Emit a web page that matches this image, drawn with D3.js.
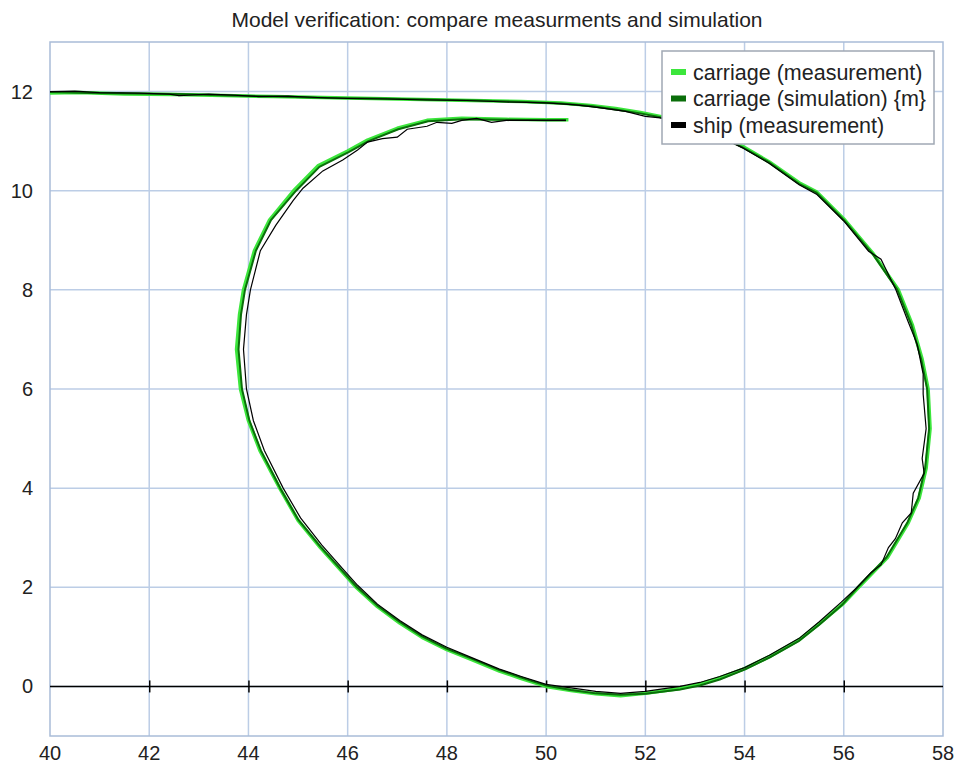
<!DOCTYPE html>
<html>
<head>
<meta charset="utf-8">
<script src="https://cdn.jsdelivr.net/npm/d3@7"></script>
<style>
  body { margin: 0; background: #fff; }
  text { font-family: "Liberation Sans", Arial, sans-serif; fill: #222; }
</style>
</head>
<body>
<div id="chart"></div>
<script>
// chart data
var titleText = "Model verification: compare measurments and simulation";
var xTicks = [40, 42, 44, 46, 48, 50, 52, 54, 56, 58];
var yTicks = [0, 2, 4, 6, 8, 10, 12];
var seriesNames = ["carriage (measurement)", "carriage (simulation) {m}", "ship (measurement)"];

var carriageMeas = [
  [40.0,11.97],[40.6,11.98],[41.5,11.95],[42.5,11.94],[43.5,11.92],[44.5,11.9],[45.5,11.88],
  [46.5,11.86],[47.5,11.84],[48.5,11.82],[49.5,11.8],[50.3,11.77],[50.9,11.72],[51.4,11.66],
  [51.9,11.58],[52.3,11.5],[52.8,11.37],[53.4,11.16],[53.95,10.9],[54.5,10.58],[55.1,10.16],
  [55.45,9.98],[56.0,9.43],[56.6,8.72],[57.1,8.0],[57.38,7.3],[57.58,6.6],[57.7,6.0],
  [57.74,5.2],[57.66,4.4],[57.52,3.8],[57.3,3.3],[56.88,2.6],[56.3,2.0],[56.0,1.68],
  [55.5,1.26],[55.1,0.94],[54.5,0.6],[54.0,0.36],[53.5,0.17],[53.1,0.05],[52.7,-0.04],
  [52.0,-0.14],[51.5,-0.19],[51.0,-0.15],[50.5,-0.08],[50.0,0.0],[49.5,0.16],[49.06,0.31],
  [48.5,0.54],[48.0,0.74],[47.5,0.99],[47.05,1.28],[46.6,1.61],[46.18,1.99],[45.9,2.3],
  [45.45,2.8],[45.0,3.35],[44.63,4.0],[44.23,4.76],[44.0,5.36],[43.84,6.0],[43.76,6.8],
  [43.82,7.5],[43.9,8.0],[44.12,8.79],[44.42,9.4],[44.93,10.02],[45.4,10.5],[46.0,10.8],
  [46.4,11.02],[47.0,11.26],[47.6,11.42],[48.3,11.46],[49.2,11.44],[50.0,11.43],[50.45,11.43]
];

var carriageSim = [
  [40.0,11.99],[40.8,11.97],[41.7,11.96],[42.6,11.95],[43.6,11.92],[44.6,11.9],[45.6,11.87],
  [46.6,11.86],[47.6,11.84],[48.6,11.82],[49.6,11.79],[50.3,11.76],[50.9,11.71],[51.4,11.64],
  [51.9,11.56],[52.3,11.48],[52.8,11.35],[53.4,11.14],[53.95,10.88],[54.5,10.57],[55.1,10.14],
  [55.45,9.96],[56.0,9.41],[56.6,8.7],[57.08,8.0],[57.36,7.3],[57.56,6.6],[57.68,6.0],
  [57.72,5.2],[57.64,4.4],[57.5,3.8],[57.28,3.3],[56.86,2.6],[56.28,2.0],[55.98,1.66],
  [55.5,1.24],[55.1,0.92],[54.5,0.58],[54.0,0.34],[53.5,0.14],[53.1,0.02],[52.7,-0.06],
  [52.0,-0.15],[51.5,-0.17],[51.0,-0.14],[50.5,-0.07],[50.0,0.02],[49.5,0.18],[49.06,0.33],
  [48.5,0.56],[48.0,0.76],[47.5,1.01],[47.05,1.3],[46.6,1.63],[46.18,2.01],[45.9,2.32],
  [45.45,2.82],[45.0,3.37],[44.64,4.0],[44.25,4.76],[44.02,5.36],[43.87,6.0],[43.8,6.8],
  [43.85,7.5],[43.93,8.0],[44.15,8.79],[44.45,9.4],[44.96,10.0],[45.43,10.48],[46.02,10.78],
  [46.42,11.0],[47.02,11.24],[47.62,11.4],[48.3,11.44],[49.2,11.43],[50.0,11.42],[50.4,11.42]
];

var shipMeas = [
  [40.0,12.0],[40.5,12.01],[41.0,11.98],[41.8,11.97],[42.4,11.95],[42.6,11.92],[43.2,11.95],
  [43.7,11.93],[44.2,11.9],[44.8,11.91],[45.4,11.88],[46.0,11.86],[46.8,11.85],[47.6,11.83],
  [48.4,11.82],[49.2,11.79],[50.0,11.77],[50.6,11.73],[51.1,11.67],[51.6,11.6],[52.0,11.5],
  [52.3,11.47],[52.8,11.35],[53.4,11.14],[53.95,10.87],[54.5,10.55],[55.1,10.12],
  [55.45,9.93],[56.0,9.39],[56.5,8.78],[56.75,8.62],[57.05,8.0],[57.3,7.35],[57.48,6.9],
  [57.6,6.3],[57.6,5.9],[57.66,5.2],[57.58,4.6],[57.62,4.3],[57.4,3.9],[57.36,3.5],
  [57.18,3.3],[57.04,2.98],[56.9,2.8],[56.75,2.45],[56.55,2.3],[56.25,1.98],[55.95,1.7],
  [55.5,1.3],[55.1,0.97],[54.5,0.63],[54.0,0.38],[53.5,0.2],[53.1,0.08],[52.7,0.0],
  [52.0,-0.1],[51.5,-0.14],[51.0,-0.1],[50.5,-0.03],[50.0,0.04],[49.5,0.2],[49.06,0.35],
  [48.5,0.58],[48.0,0.79],[47.5,1.04],[47.05,1.33],[46.6,1.66],[46.2,2.04],[45.92,2.35],
  [45.48,2.85],[45.05,3.4],[44.7,4.0],[44.32,4.76],[44.1,5.36],[43.96,6.0],[43.9,6.8],
  [43.96,7.5],[44.04,8.0],[44.24,8.79],[44.55,9.3],[44.9,9.8],[45.1,10.05],[45.5,10.4],
  [45.9,10.62],[46.2,10.82],[46.4,10.98],[46.7,11.05],[47.0,11.08],[47.2,11.24],[47.6,11.3],
  [47.8,11.38],[48.1,11.36],[48.3,11.42],[48.6,11.46],[48.9,11.38],[49.2,11.42],[50.0,11.42],
  [50.4,11.42]
];

var svgWidth = 956;
var svgHeight = 764;
var margin = { top: 42, right: 13, bottom: 28, left: 50 };
var width = svgWidth - margin.left - margin.right;
var height = svgHeight - margin.top - margin.bottom;

var svg = d3.select("#chart")
  .append("svg")
  .attr("width", svgWidth)
  .attr("height", svgHeight);

var chartGroup = svg.append("g")
  .attr("transform", `translate(${margin.left}, ${margin.top})`);

var xScale = d3.scaleLinear().domain([40, 58]).range([0, width]);
var yScale = d3.scaleLinear().domain([-1, 13]).range([height, 0]);

// grid
chartGroup.append("g")
  .selectAll("line")
  .data(xTicks.slice(1, -1))
  .enter()
  .append("line")
  .attr("x1", d => xScale(d)).attr("x2", d => xScale(d))
  .attr("y1", 0).attr("y2", height)
  .attr("stroke", "#bccde6").attr("stroke-width", 1.5);

chartGroup.append("g")
  .selectAll("line")
  .data(yTicks)
  .enter()
  .append("line")
  .attr("x1", 0).attr("x2", width)
  .attr("y1", d => yScale(d)).attr("y2", d => yScale(d))
  .attr("stroke", "#bccde6").attr("stroke-width", 1.5);

// frame
chartGroup.append("rect")
  .attr("width", width).attr("height", height)
  .attr("fill", "none")
  .attr("stroke", "#a9bcd8").attr("stroke-width", 1.5);

// zero line with ticks
var bottomAxis = d3.axisBottom(xScale)
  .tickValues(xTicks.slice(1, -1))
  .tickSize(6)
  .tickFormat("");
var zeroAxis = chartGroup.append("g")
  .attr("transform", `translate(0,${yScale(0)})`)
  .call(bottomAxis);
zeroAxis.select(".domain").attr("d", `M0,0H${width}`).attr("stroke", "#000").attr("stroke-width", 1.5);
zeroAxis.selectAll(".tick line").attr("y1", -6).attr("y2", 6).attr("stroke", "#000").attr("stroke-width", 1.5);

// tick labels
chartGroup.append("g")
  .selectAll("text")
  .data(xTicks)
  .enter()
  .append("text")
  .attr("x", d => xScale(d))
  .attr("y", height + 24)
  .attr("text-anchor", "middle")
  .style("font-size", "20px")
  .text(d => d);

chartGroup.append("g")
  .selectAll("text")
  .data(yTicks)
  .enter()
  .append("text")
  .attr("x", -17)
  .attr("y", d => yScale(d))
  .attr("dy", "0.35em")
  .attr("text-anchor", "end")
  .style("font-size", "20px")
  .text(d => d);

// series
var line = d3.line()
  .x(d => xScale(d[0]))
  .y(d => yScale(d[1]));

chartGroup.append("path")
  .datum(carriageMeas)
  .attr("d", line)
  .attr("fill", "none")
  .attr("stroke", "#3ce63c")
  .attr("stroke-width", 3.5)
  .attr("stroke-linejoin", "round");

chartGroup.append("path")
  .datum(carriageSim)
  .attr("d", line)
  .attr("fill", "none")
  .attr("stroke", "#0a6e0a")
  .attr("stroke-width", 2)
  .attr("stroke-linejoin", "round");

chartGroup.append("path")
  .datum(shipMeas)
  .attr("d", line)
  .attr("fill", "none")
  .attr("stroke", "#000")
  .attr("stroke-width", 1.2);

// title
svg.append("text")
  .attr("x", 497)
  .attr("y", 27)
  .attr("text-anchor", "middle")
  .style("font-size", "21px")
  .text(titleText);

// legend
var legendColors = ["#3ce63c", "#0a6e0a", "#000"];
var legend = svg.append("g").attr("transform", "translate(662,51)");
legend.append("rect")
  .attr("width", 272).attr("height", 93)
  .attr("fill", "#fff")
  .attr("stroke", "#a0a8b4").attr("stroke-width", 1.5);

var items = legend.selectAll("g.item")
  .data(seriesNames)
  .enter()
  .append("g")
  .attr("class", "item")
  .attr("transform", (d, i) => `translate(0, ${21 + i * 26.5})`);

items.append("rect")
  .attr("x", 9).attr("y", -3)
  .attr("width", 15).attr("height", 6)
  .attr("fill", (d, i) => legendColors[i]);

items.append("text")
  .attr("x", 31)
  .attr("dy", "0.35em")
  .style("font-size", "21.5px")
  .text(d => d);
</script>
</body>
</html>
